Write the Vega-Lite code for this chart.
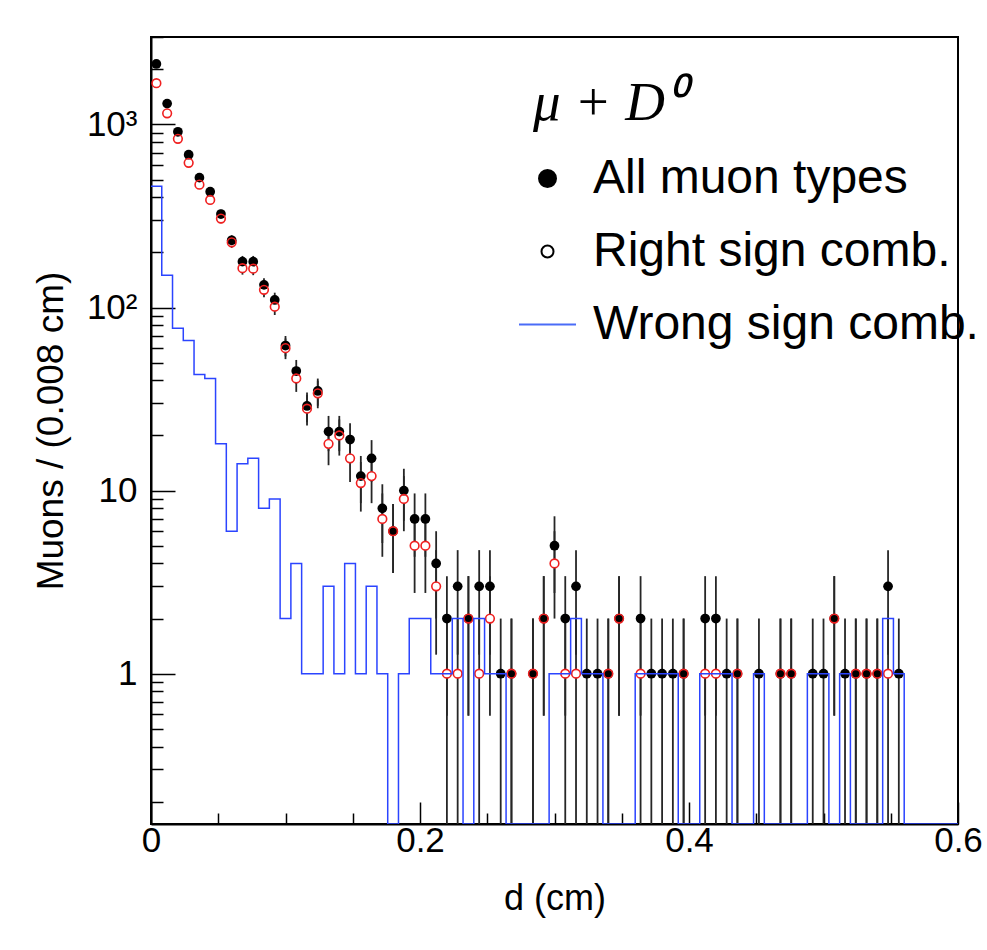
{
  "$schema": "https://vega.github.io/schema/vega-lite/v6.json",
  "width": 807,
  "height": 787,
  "autosize": {"type": "none"},
  "padding": {"left": 151, "top": 37, "right": 29, "bottom": 126},
  "background": "white",
  "config": {
    "font": "Liberation Sans",
    "view": {"stroke": "black", "strokeWidth": 2},
    "axis": {
      "grid": false,
      "domainColor": "black",
      "domainWidth": 2,
      "tickColor": "black",
      "tickWidth": 1.5,
      "labelColor": "black",
      "titleColor": "black",
      "labelFont": "Liberation Sans Narrow, Liberation Sans",
      "titleFont": "Liberation Sans",
      "titleFontWeight": "normal",
      "labelOverlap": false,
      "labelFlush": false,
      "labelBound": false
    }
  },
  "datasets": {
    "points": [
      {"d":0.004,"s":"all","n":2140,"lo":2093.7,"hi":2186.3},
      {"d":0.012,"s":"all","n":1300,"lo":1263.9,"hi":1336.1},
      {"d":0.020,"s":"all","n":912,"lo":881.8,"hi":942.2},
      {"d":0.028,"s":"all","n":683,"lo":656.9,"hi":709.1},
      {"d":0.036,"s":"all","n":512,"lo":489.4,"hi":534.6},
      {"d":0.044,"s":"all","n":429,"lo":408.3,"hi":449.7},
      {"d":0.052,"s":"all","n":324,"lo":306,"hi":342},
      {"d":0.060,"s":"all","n":233,"lo":217.7,"hi":248.3},
      {"d":0.068,"s":"all","n":178,"lo":164.7,"hi":191.3},
      {"d":0.076,"s":"all","n":178,"lo":164.7,"hi":191.3},
      {"d":0.084,"s":"all","n":133,"lo":121.5,"hi":144.5},
      {"d":0.092,"s":"all","n":110,"lo":99.5,"hi":120.5},
      {"d":0.100,"s":"all","n":62,"lo":54.13,"hi":69.87},
      {"d":0.108,"s":"all","n":45,"lo":38.29,"hi":51.71},
      {"d":0.116,"s":"all","n":29,"lo":23.61,"hi":34.39},
      {"d":0.124,"s":"all","n":35,"lo":29.08,"hi":40.92},
      {"d":0.132,"s":"all","n":21,"lo":16.42,"hi":25.58},
      {"d":0.140,"s":"all","n":21,"lo":16.42,"hi":25.58},
      {"d":0.148,"s":"all","n":19,"lo":14.64,"hi":23.36},
      {"d":0.156,"s":"all","n":12,"lo":8.54,"hi":15.46},
      {"d":0.164,"s":"all","n":15,"lo":11.13,"hi":18.87},
      {"d":0.172,"s":"all","n":8,"lo":5.17,"hi":10.83},
      {"d":0.180,"s":"all","n":6,"lo":3.55,"hi":8.45},
      {"d":0.188,"s":"all","n":10,"lo":6.84,"hi":13.16},
      {"d":0.196,"s":"all","n":7,"lo":4.35,"hi":9.65},
      {"d":0.204,"s":"all","n":7,"lo":4.35,"hi":9.65},
      {"d":0.212,"s":"all","n":4,"lo":2,"hi":6},
      {"d":0.220,"s":"all","n":2,"lo":0.59,"hi":3.41},
      {"d":0.228,"s":"all","n":3,"lo":1.27,"hi":4.73},
      {"d":0.236,"s":"all","n":2,"lo":0.59,"hi":3.41},
      {"d":0.244,"s":"all","n":3,"lo":1.27,"hi":4.73},
      {"d":0.252,"s":"all","n":3,"lo":1.27,"hi":4.73},
      {"d":0.260,"s":"all","n":1,"lo":0,"hi":2},
      {"d":0.268,"s":"all","n":1,"lo":0,"hi":2},
      {"d":0.284,"s":"all","n":1,"lo":0,"hi":2},
      {"d":0.292,"s":"all","n":2,"lo":0.59,"hi":3.41},
      {"d":0.300,"s":"all","n":5,"lo":2.76,"hi":7.24},
      {"d":0.308,"s":"all","n":2,"lo":0.59,"hi":3.41},
      {"d":0.316,"s":"all","n":3,"lo":1.27,"hi":4.73},
      {"d":0.324,"s":"all","n":1,"lo":0,"hi":2},
      {"d":0.332,"s":"all","n":1,"lo":0,"hi":2},
      {"d":0.340,"s":"all","n":1,"lo":0,"hi":2},
      {"d":0.348,"s":"all","n":2,"lo":0.59,"hi":3.41},
      {"d":0.364,"s":"all","n":2,"lo":0.59,"hi":3.41},
      {"d":0.372,"s":"all","n":1,"lo":0,"hi":2},
      {"d":0.380,"s":"all","n":1,"lo":0,"hi":2},
      {"d":0.388,"s":"all","n":1,"lo":0,"hi":2},
      {"d":0.396,"s":"all","n":1,"lo":0,"hi":2},
      {"d":0.412,"s":"all","n":2,"lo":0.59,"hi":3.41},
      {"d":0.420,"s":"all","n":2,"lo":0.59,"hi":3.41},
      {"d":0.428,"s":"all","n":1,"lo":0,"hi":2},
      {"d":0.436,"s":"all","n":1,"lo":0,"hi":2},
      {"d":0.452,"s":"all","n":1,"lo":0,"hi":2},
      {"d":0.468,"s":"all","n":1,"lo":0,"hi":2},
      {"d":0.476,"s":"all","n":1,"lo":0,"hi":2},
      {"d":0.492,"s":"all","n":1,"lo":0,"hi":2},
      {"d":0.500,"s":"all","n":1,"lo":0,"hi":2},
      {"d":0.508,"s":"all","n":2,"lo":0.59,"hi":3.41},
      {"d":0.516,"s":"all","n":1,"lo":0,"hi":2},
      {"d":0.524,"s":"all","n":1,"lo":0,"hi":2},
      {"d":0.532,"s":"all","n":1,"lo":0,"hi":2},
      {"d":0.540,"s":"all","n":1,"lo":0,"hi":2},
      {"d":0.548,"s":"all","n":3,"lo":1.27,"hi":4.73},
      {"d":0.556,"s":"all","n":1,"lo":0,"hi":2},
      {"d":0.004,"s":"right","n":1680,"lo":1639,"hi":1721},
      {"d":0.012,"s":"right","n":1150,"lo":1116.1,"hi":1183.9},
      {"d":0.020,"s":"right","n":835,"lo":806.1,"hi":863.9},
      {"d":0.028,"s":"right","n":617,"lo":592.2,"hi":641.8},
      {"d":0.036,"s":"right","n":469,"lo":447.3,"hi":490.7},
      {"d":0.044,"s":"right","n":387,"lo":367.3,"hi":406.7},
      {"d":0.052,"s":"right","n":306,"lo":288.5,"hi":323.5},
      {"d":0.060,"s":"right","n":227,"lo":211.9,"hi":242.1},
      {"d":0.068,"s":"right","n":164,"lo":151.2,"hi":176.8},
      {"d":0.076,"s":"right","n":163,"lo":150.2,"hi":175.8},
      {"d":0.084,"s":"right","n":125,"lo":113.8,"hi":136.2},
      {"d":0.092,"s":"right","n":101,"lo":91,"hi":111},
      {"d":0.100,"s":"right","n":60,"lo":52.25,"hi":67.75},
      {"d":0.108,"s":"right","n":41,"lo":34.6,"hi":47.4},
      {"d":0.116,"s":"right","n":28,"lo":22.71,"hi":33.29},
      {"d":0.124,"s":"right","n":34,"lo":28.17,"hi":39.83},
      {"d":0.132,"s":"right","n":18,"lo":13.76,"hi":22.24},
      {"d":0.140,"s":"right","n":20,"lo":15.53,"hi":24.47},
      {"d":0.148,"s":"right","n":15,"lo":11.13,"hi":18.87},
      {"d":0.156,"s":"right","n":11,"lo":7.68,"hi":14.32},
      {"d":0.164,"s":"right","n":12,"lo":8.54,"hi":15.46},
      {"d":0.172,"s":"right","n":7,"lo":4.35,"hi":9.65},
      {"d":0.180,"s":"right","n":6,"lo":3.55,"hi":8.45},
      {"d":0.188,"s":"right","n":9,"lo":6,"hi":12},
      {"d":0.196,"s":"right","n":5,"lo":2.76,"hi":7.24},
      {"d":0.204,"s":"right","n":5,"lo":2.76,"hi":7.24},
      {"d":0.212,"s":"right","n":3,"lo":1.27,"hi":4.73},
      {"d":0.220,"s":"right","n":1,"lo":0,"hi":2},
      {"d":0.228,"s":"right","n":1,"lo":0,"hi":2},
      {"d":0.236,"s":"right","n":2,"lo":0.59,"hi":3.41},
      {"d":0.244,"s":"right","n":1,"lo":0,"hi":2},
      {"d":0.252,"s":"right","n":2,"lo":0.59,"hi":3.41},
      {"d":0.268,"s":"right","n":1,"lo":0,"hi":2},
      {"d":0.284,"s":"right","n":1,"lo":0,"hi":2},
      {"d":0.292,"s":"right","n":2,"lo":0.59,"hi":3.41},
      {"d":0.300,"s":"right","n":4,"lo":2,"hi":6},
      {"d":0.308,"s":"right","n":1,"lo":0,"hi":2},
      {"d":0.316,"s":"right","n":1,"lo":0,"hi":2},
      {"d":0.340,"s":"right","n":1,"lo":0,"hi":2},
      {"d":0.348,"s":"right","n":2,"lo":0.59,"hi":3.41},
      {"d":0.364,"s":"right","n":1,"lo":0,"hi":2},
      {"d":0.396,"s":"right","n":1,"lo":0,"hi":2},
      {"d":0.412,"s":"right","n":1,"lo":0,"hi":2},
      {"d":0.420,"s":"right","n":1,"lo":0,"hi":2},
      {"d":0.436,"s":"right","n":1,"lo":0,"hi":2},
      {"d":0.468,"s":"right","n":1,"lo":0,"hi":2},
      {"d":0.476,"s":"right","n":1,"lo":0,"hi":2},
      {"d":0.508,"s":"right","n":2,"lo":0.59,"hi":3.41},
      {"d":0.524,"s":"right","n":1,"lo":0,"hi":2},
      {"d":0.532,"s":"right","n":1,"lo":0,"hi":2},
      {"d":0.540,"s":"right","n":1,"lo":0,"hi":2},
      {"d":0.548,"s":"right","n":1,"lo":0,"hi":2}
    ],
    "wrong": [
      {"x0":0.000,"n":460},{"x0":0.008,"n":150},{"x0":0.016,"n":77},{"x0":0.024,"n":66},
      {"x0":0.032,"n":43},{"x0":0.040,"n":41},{"x0":0.048,"n":18},{"x0":0.056,"n":6},
      {"x0":0.064,"n":14},{"x0":0.072,"n":15},{"x0":0.080,"n":8},{"x0":0.088,"n":9},
      {"x0":0.096,"n":2},{"x0":0.104,"n":4},{"x0":0.112,"n":1},{"x0":0.120,"n":1},
      {"x0":0.128,"n":3},{"x0":0.136,"n":1},{"x0":0.144,"n":4},{"x0":0.152,"n":1},
      {"x0":0.160,"n":3},{"x0":0.168,"n":1},{"x0":0.176,"n":0},{"x0":0.184,"n":1},
      {"x0":0.192,"n":2},{"x0":0.200,"n":2},{"x0":0.208,"n":1},{"x0":0.216,"n":1},
      {"x0":0.224,"n":2},{"x0":0.232,"n":0},{"x0":0.240,"n":2},{"x0":0.248,"n":1},
      {"x0":0.256,"n":1},{"x0":0.264,"n":0},{"x0":0.272,"n":0},{"x0":0.280,"n":0},
      {"x0":0.288,"n":0},{"x0":0.296,"n":1},{"x0":0.304,"n":1},{"x0":0.312,"n":2},
      {"x0":0.320,"n":1},{"x0":0.328,"n":1},{"x0":0.336,"n":0},{"x0":0.344,"n":0},
      {"x0":0.352,"n":0},{"x0":0.360,"n":1},{"x0":0.368,"n":1},{"x0":0.376,"n":1},
      {"x0":0.384,"n":1},{"x0":0.392,"n":0},{"x0":0.400,"n":0},{"x0":0.408,"n":1},
      {"x0":0.416,"n":1},{"x0":0.424,"n":1},{"x0":0.432,"n":0},{"x0":0.440,"n":0},
      {"x0":0.448,"n":1},{"x0":0.456,"n":0},{"x0":0.464,"n":0},{"x0":0.472,"n":0},
      {"x0":0.480,"n":0},{"x0":0.488,"n":1},{"x0":0.496,"n":1},{"x0":0.504,"n":0},
      {"x0":0.512,"n":1},{"x0":0.520,"n":0},{"x0":0.528,"n":0},{"x0":0.536,"n":0},
      {"x0":0.544,"n":2},{"x0":0.552,"n":1},{"x0":0.560,"n":0},{"x0":0.600,"n":0}
    ],
    "series": [
      {"s": "all"}, {"s": "right"}, {"s": "wrong"}
    ]
  },
  "layer": [
    {
      "data": {"name": "points"},
      "mark": {"type": "rule", "color": "#262626", "strokeWidth": 1.8},
      "encoding": {
        "x": {
          "field": "d", "type": "quantitative",
          "scale": {"domain": [0, 0.6], "nice": false, "zero": false},
          "axis": {
            "title": "d (cm)",
            "titleFontSize": 36,
            "titlePadding": 12,
            "values": [0, 0.05, 0.1, 0.15, 0.2, 0.25, 0.3, 0.35, 0.4, 0.45, 0.5, 0.55, 0.6],
            "format": "~g",
            "labelExpr": "(datum.value == 0 || datum.value == 0.2 || datum.value == 0.4 || datum.value == 0.6) ? datum.label : ''",
            "labelFontSize": 35,
            "labelPadding": 21,
            "tickSize": {"condition": {"test": "datum.value == 0 || datum.value == 0.2 || datum.value == 0.4 || datum.value == 0.6", "value": -22}, "value": -11}
          }
        },
        "y": {
          "field": "lo", "type": "quantitative",
          "scale": {"type": "log", "domain": [0.151, 3003], "nice": false, "clamp": true},
          "axis": {
            "title": "Muons / (0.008 cm)",
            "titleFontSize": 37,
            "titlePadding": 16,
            "values": [0.2, 0.3, 0.4, 0.5, 0.6, 0.7, 0.8, 0.9, 1, 2, 3, 4, 5, 6, 7, 8, 9, 10, 20, 30, 40, 50, 60, 70, 80, 90, 100, 200, 300, 400, 500, 600, 700, 800, 900, 1000, 2000, 3000],
            "format": "~g",
            "labelExpr": "datum.value == 1000 ? '10³' : datum.value == 100 ? '10²' : datum.value == 10 ? '10' : datum.value == 1 ? '1' : ''",
            "labelFontSize": 35,
            "labelPadding": 38,
            "tickSize": {"condition": {"test": "datum.value == 1 || datum.value == 10 || datum.value == 100 || datum.value == 1000", "value": -24}, "value": -12}
          }
        },
        "y2": {"field": "hi"}
      }
    },
    {
      "data": {"name": "points"},
      "transform": [{"filter": "datum.s == 'right'"}],
      "mark": {"type": "point", "shape": "circle", "filled": true, "color": "white", "size": 70, "opacity": 1},
      "encoding": {
        "x": {"field": "d", "type": "quantitative"},
        "y": {"field": "n", "type": "quantitative"}
      }
    },
    {
      "data": {"name": "points"},
      "transform": [{"filter": "datum.s == 'all'"}],
      "mark": {"type": "point", "shape": "circle", "filled": true, "color": "black", "size": 95, "opacity": 1},
      "encoding": {
        "x": {"field": "d", "type": "quantitative"},
        "y": {"field": "n", "type": "quantitative"}
      }
    },
    {
      "data": {"name": "points"},
      "transform": [{"filter": "datum.s == 'right'"}],
      "mark": {"type": "point", "shape": "circle", "filled": false, "stroke": "#f02020", "strokeWidth": 1.6, "size": 75, "opacity": 1},
      "encoding": {
        "x": {"field": "d", "type": "quantitative"},
        "y": {"field": "n", "type": "quantitative"}
      }
    },
    {
      "data": {"name": "wrong"},
      "mark": {"type": "line", "interpolate": "step-after", "color": "#2b44ff", "strokeWidth": 1.5, "clip": true},
      "encoding": {
        "x": {"field": "x0", "type": "quantitative"},
        "y": {"field": "n", "type": "quantitative"}
      }
    },
    {
      "data": {"name": "series"},
      "mark": {"type": "point", "opacity": 0, "strokeWidth": 2},
      "encoding": {
        "shape": {
          "field": "s", "type": "nominal",
          "scale": {
            "domain": ["all", "right", "wrong"],
            "range": [
              "M-0.228,0A0.298,0.298,0,1,1,-0.824,0A0.298,0.298,0,1,1,-0.228,0M-0.280,0A0.246,0.246,0,1,1,-0.772,0A0.246,0.246,0,1,1,-0.280,0M-0.333,0A0.193,0.193,0,1,1,-0.719,0A0.193,0.193,0,1,1,-0.333,0M-0.386,0A0.140,0.140,0,1,1,-0.666,0A0.140,0.140,0,1,1,-0.386,0M-0.438,0A0.088,0.088,0,1,1,-0.614,0A0.088,0.088,0,1,1,-0.438,0M-0.491,0A0.035,0.035,0,1,1,-0.561,0A0.035,0.035,0,1,1,-0.491,0",
              "M-0.3155,0A0.2105,0.2105,0,1,1,-0.7365,0A0.2105,0.2105,0,1,1,-0.3155,0Z",
              "M-1.526,0L0.474,0"
            ]
          },
          "legend": {
            "title": "μ + D⁰",
            "orient": "none",
            "legendX": 382,
            "legendY": 40,
            "direction": "vertical",
            "padding": 0,
            "titleFont": "Liberation Serif",
            "titleFontStyle": "italic",
            "titleFontWeight": "normal",
            "titleFontSize": 55,
            "titleColor": "black",
            "titlePadding": 17,
            "titleLimit": 400,
            "labelFont": "Liberation Sans",
            "labelFontSize": 48,
            "labelColor": "black",
            "labelOffset": 1,
            "labelLimit": 600,
            "labelExpr": "datum.value == 'all' ? 'All muon types' : datum.value == 'right' ? 'Right sign comb.' : 'Wrong sign comb.'",
            "symbolSize": 3249,
            "symbolStrokeWidth": 2,
            "symbolOpacity": 1,
            "rowPadding": 19
          }
        },
        "stroke": {
          "field": "s", "type": "nominal",
          "scale": {"domain": ["all", "right", "wrong"], "range": ["black", "black", "#4a6cf7"]},
          "legend": {"title": "μ + D⁰"}
        }
      }
    }
  ]
}
